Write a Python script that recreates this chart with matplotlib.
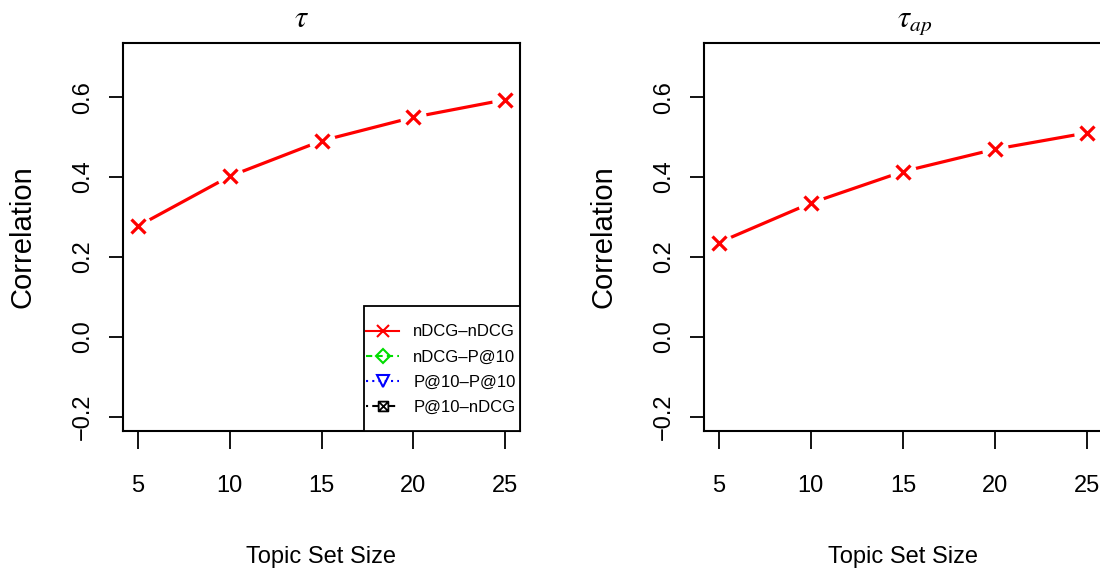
import matplotlib
matplotlib.use("Agg")
import matplotlib.pyplot as plt
from matplotlib.path import Path
from matplotlib.lines import Line2D
from matplotlib.patches import Rectangle

plt.rcParams['font.family'] = ['Liberation Sans', 'DejaVu Sans']
plt.rcParams['mathtext.fontset'] = 'stix'

# Data
topic_set_sizes = [5, 10, 15, 20, 25]
tau_ndcg_ndcg = [0.277, 0.402, 0.491, 0.550, 0.594]
tau_ap_ndcg_ndcg = [0.236, 0.335, 0.414, 0.470, 0.511]
legend_labels = ['nDCG–nDCG', 'nDCG–P@10', 'P@10–P@10', 'P@10–nDCG']
panel_titles = [r'$\tau$', r'$\tau_{ap}$']
x_ticks = [5, 10, 15, 20, 25]
y_ticks = [-0.2, 0.0, 0.2, 0.4, 0.6]

# square with a cross inside (boxed x)
boxed_x = Path(
    [(-1, -1), (1, -1), (1, 1), (-1, 1), (-1, -1),
     (-1, -1), (1, 1), (-1, 1), (1, -1)],
    [Path.MOVETO, Path.LINETO, Path.LINETO, Path.LINETO, Path.CLOSEPOLY,
     Path.MOVETO, Path.LINETO, Path.MOVETO, Path.LINETO])

W, H = 1100, 571
fig = plt.figure(figsize=(W / 100, H / 100), dpi=100)

def px_axes(left, top, right, bottom):
    return fig.add_axes([left / W, 1 - bottom / H, (right - left) / W, (bottom - top) / H])

ax1 = px_axes(123, 43, 520, 431)
ax2 = px_axes(704, 43, 1102, 431)

def fmt(v):
    return f'{v:.1f}'.replace('-', '\u2212')

def style_axes(ax):
    ax.set_xlim(4.2, 25.8)
    ax.set_ylim(-0.236, 0.736)
    ax.set_xticks(x_ticks)
    ax.set_yticks(y_ticks)
    ax.set_yticklabels([fmt(v) for v in y_ticks])
    for s in ax.spines.values():
        s.set_linewidth(1.5)
        s.set_color('black')
    ax.tick_params(axis='x', length=13, width=1.3, pad=19, labelsize=17)
    ax.tick_params(axis='y', length=10, width=1.3, pad=11, labelsize=17,
                   labelrotation=90)
    for lbl in ax.get_yticklabels():
        lbl.set_verticalalignment('center')
    ax.set_xlabel('Topic Set Size', fontsize=17, va='center')
    ax.xaxis.set_label_coords(0.5, -0.325)
    ax.set_ylabel('Correlation', fontsize=21, va='center')
    ax.yaxis.set_label_coords(-0.253, 0.5)

def draw_series(ax, xs, ys):
    ax.plot(xs, ys, color='red', lw=2.3, zorder=2, solid_capstyle='butt')
    ax.plot(xs, ys, ls='none', marker='o', ms=19, mfc='white', mec='none', zorder=2.1)
    ax.plot(xs, ys, ls='none', marker='x', ms=10, mew=2.3, color='red', zorder=3)

for ax, ys in zip([ax1, ax2], [tau_ndcg_ndcg, tau_ap_ndcg_ndcg]):
    style_axes(ax)
    draw_series(ax, topic_set_sizes, ys)

ax1.text(0.450, 1.041, panel_titles[0], transform=ax1.transAxes,
         ha='center', va='baseline', fontsize=22)
ax2.text(0.530, 1.041, panel_titles[1], transform=ax2.transAxes,
         ha='center', va='baseline', fontsize=22)

handles = [
    Line2D([], [], color='red', ls='-', lw=1.5, marker='x', ms=8, mew=1.5),
    Line2D([], [], color='#00dd00', ls=(0, (3, 2)), lw=1.5, marker='D', ms=7,
           mfc='none', mew=1.5),
    Line2D([], [], color='blue', ls=(0, (1, 2)), lw=1.5, marker='v', ms=8,
           mfc='none', mew=1.5),
    Line2D([], [], color='black', ls=(0, (1, 2, 3, 2)), lw=1.5, marker=boxed_x,
           ms=7, mfc='none', mew=1.3),
]

# legend box in the lower right corner of the left panel
box_x0 = (364 - 123) / 397
box_h = (431 - 306) / 388
ax1.add_patch(Rectangle((box_x0, 0), 1 - box_x0, box_h, transform=ax1.transAxes,
                        facecolor='white', edgecolor='black', lw=1.3, zorder=4,
                        clip_on=False))
leg = ax1.legend(handles, legend_labels, loc='center',
                 bbox_to_anchor=((441 - 123) / 397, (431 - 369.5) / 388),
                 fontsize=12, frameon=False, borderpad=0, borderaxespad=0,
                 handlelength=1.95, handletextpad=0.85, labelspacing=0.6)
leg.set_zorder(5)

fig.savefig('out.png', dpi=100)
